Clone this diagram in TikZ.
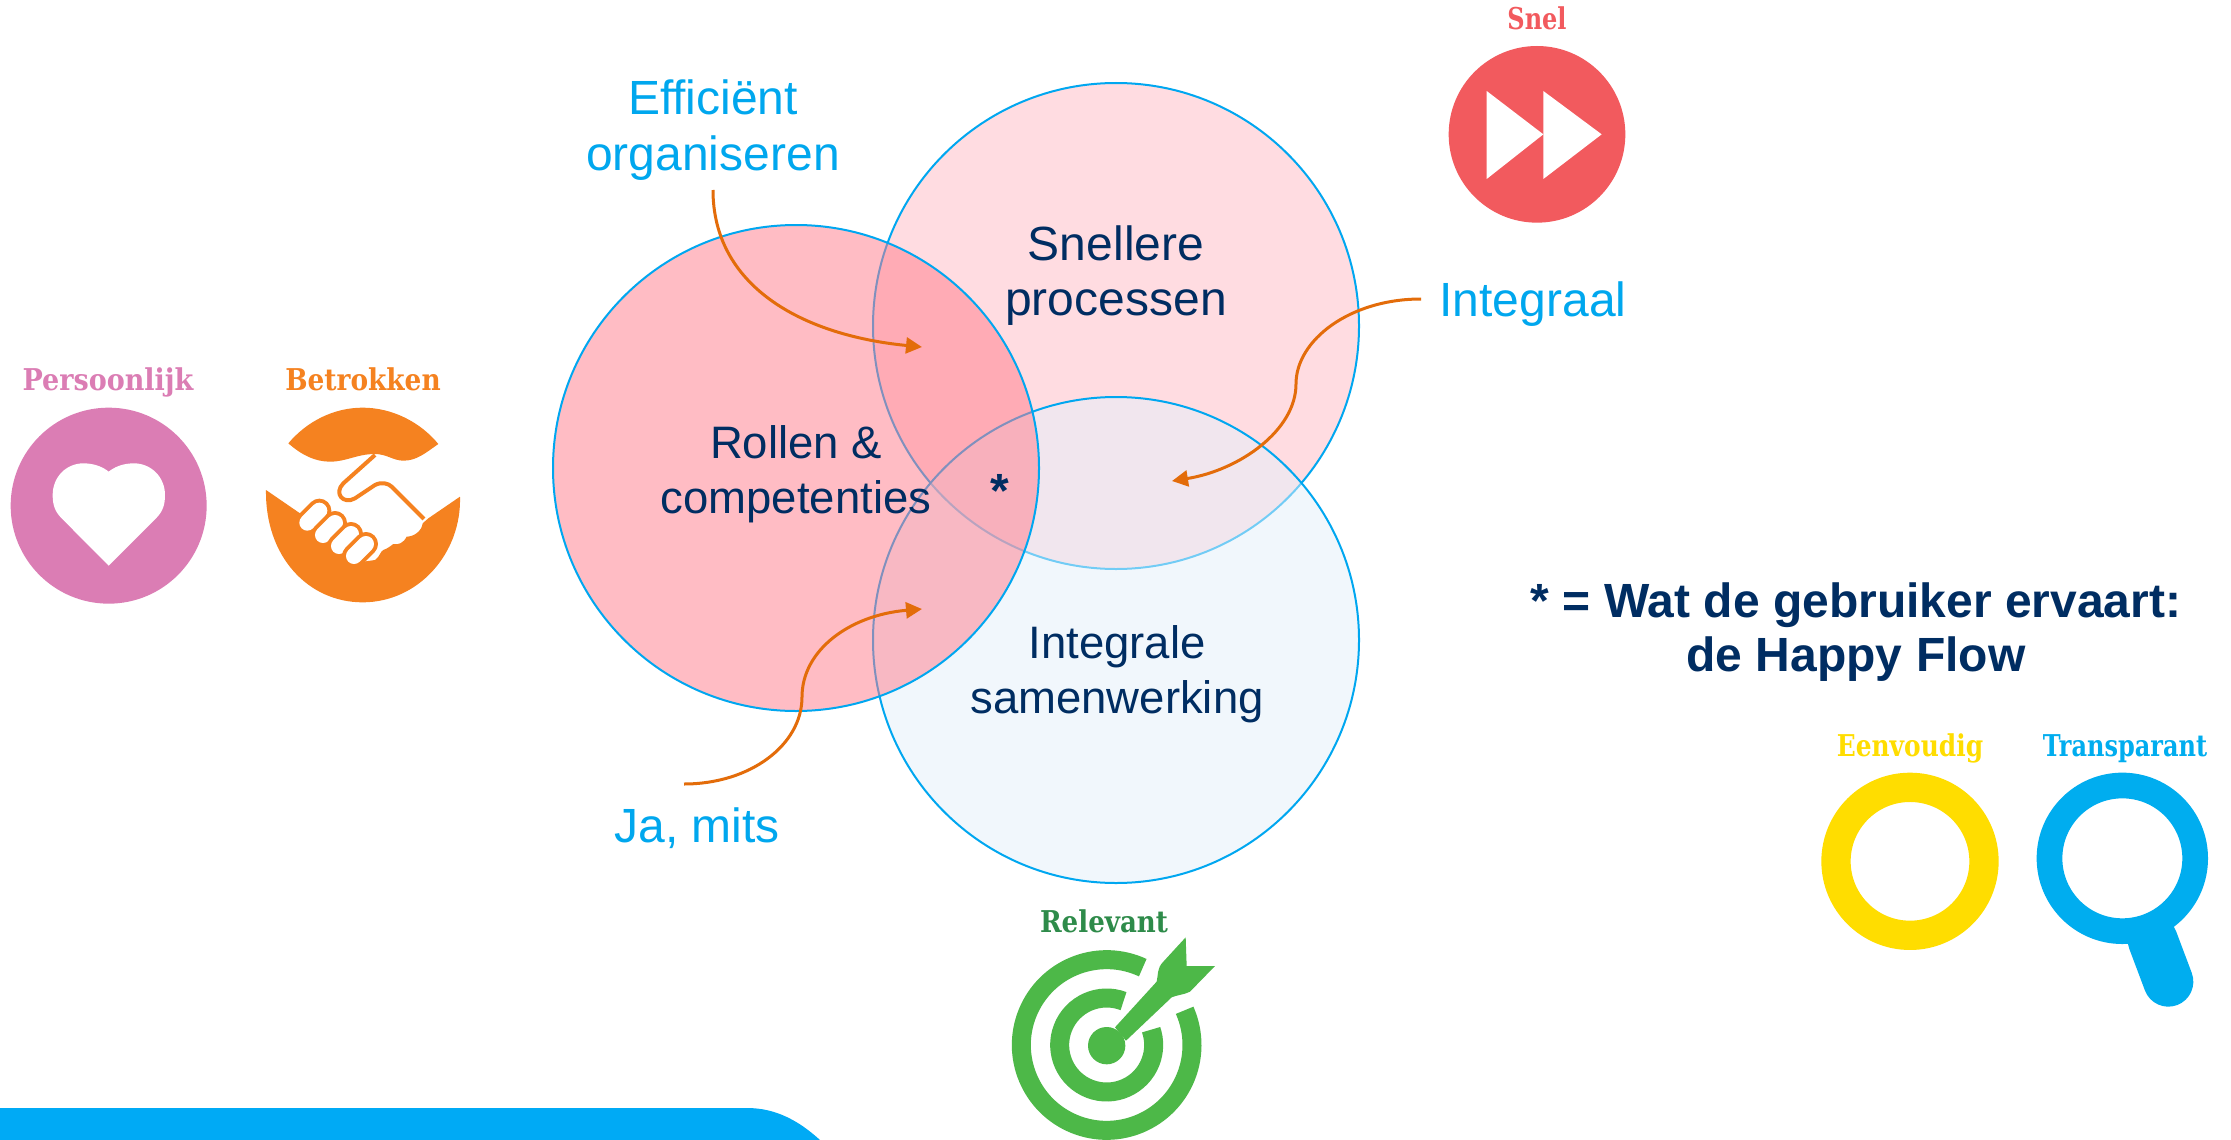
\documentclass[tikz,border=0pt]{standalone}
\usepackage{fontspec}
\setmainfont{Liberation Sans}
\newfontfamily\iconfont[Scale=1]{DejaVu Serif}
\usetikzlibrary{arrows.meta}
\definecolor{navy}{HTML}{002D62}
\definecolor{cyantext}{HTML}{00A7EE}
\definecolor{ringblue}{HTML}{00A7F0}
\definecolor{arroworange}{HTML}{E36C0A}
\definecolor{cpink}{HTML}{DB7DB4}
\definecolor{corange}{HTML}{F58220}
\definecolor{cred}{HTML}{F25A5E}
\definecolor{cgreen}{HTML}{4DB848}
\definecolor{cdgreen}{HTML}{2E8B4A}
\definecolor{cyellow}{HTML}{FFDD00}
\definecolor{cblue}{HTML}{00ADEF}
\definecolor{cbar}{HTML}{00AAF5}
\definecolor{fillleft}{RGB}{255,123,139}
\definecolor{filltop}{RGB}{255,220,225}
\definecolor{fillbot}{RGB}{229,241,251}
\tikzset{
  x=1pt,y=-1pt,
  venn/.style={circle,draw=ringblue,line width=2pt,minimum size=486pt,inner sep=0pt,fill opacity=.5,draw opacity=1},
  bigtext/.style={inner sep=0pt,align=center,text=navy,font=\fontsize{48}{55.6}\selectfont},
  midtext/.style={inner sep=0pt,align=center,text=navy,font=\fontsize{45.5}{55}\selectfont},
  linktext/.style={inner sep=0pt,align=center,text=cyantext,font=\fontsize{48}{55.6}\selectfont},
  headtext/.style={inner sep=0pt,align=center,text=navy,font=\bfseries\fontsize{48}{54}\selectfont},
  iconlabel/.style={inner sep=0pt,anchor=base,transform shape,font=\iconfont\bfseries\fontsize{30}{30}\selectfont},
  link/.style={draw=arroworange,line width=3pt,-{Triangle[length=16pt,width=16pt]}},
}
\begin{document}
\begin{tikzpicture}
\useasboundingbox (0,0) rectangle (2231,1140);
\fill[white] (0,0) rectangle (2231,1140);
% bottom bar
\fill[cbar] (0,1108) -- (747,1108) .. controls (775,1108) and (798,1120) .. (820,1140) -- (0,1140) -- cycle;
% venn
\node[venn,fill=filltop,fill opacity=1] (ctop) at (1116,326) {};
\node[venn,fill=fillbot] (cbot) at (1116,640) {};
\node[venn,fill=fillleft] (cleft) at (796,468) {};
% venn texts
\node[bigtext] (t1) at (1116,275.5) {Snellere\\processen};
\node[midtext] (t2) at (796,474) {Rollen \&\\competenties};
\node[midtext] (t3) at (1117,674) {Integrale\\samenwerking};
\node[headtext,anchor=center] (star) at (1000,491) {*};
\node[linktext] (l1) at (713,130) {Efficiënt\\organiseren};
\node[linktext,anchor=base] (l2) at (1533,316) {Integraal};
\node[linktext,anchor=base] (l3) at (697,842) {Ja, mits};
\node[headtext] (h) at (1856,632) {* = Wat de gebruiker ervaart:\\de Happy Flow};
% connectors
\coordinate (s1) at (713,190);
\coordinate (e1) at (922,347);
\coordinate (s2) at (1421,299);
\coordinate (m2) at (1296,384);
\coordinate (e2) at (1172,481);
\coordinate (s3) at (684,784);
\coordinate (m3) at (802,697);
\coordinate (e3) at (922,609);
\draw[link] (s1) .. controls (713,285) and (800,335) .. (e1);
\draw[link] (s2) .. controls (1350,299) and (1296,340) .. (m2) .. controls (1296,430) and (1240,470) .. (e2);
\draw[link] (s3) .. controls (750,784) and (802,745) .. (m3) .. controls (802,650) and (850,615) .. (e3);
% Persoonlijk / Betrokken icons
\node[iconlabel,text=cpink,xscale=.9] (ip) at (108,390) {Persoonlijk};
\node[iconlabel,text=corange,xscale=.88] (ib) at (363,390) {Betrokken};
\begin{scope}[shift={(0,340)},x=.33333pt,y=-.33333pt]
 \fill[cpink] (326,497) circle[radius=294/3*1pt];
 \fill[white] (326,677) -- (185,535) .. controls (165,515) and (158,495) .. (158,465)
   .. controls (158,410) and (200,370) .. (250,370) .. controls (285,370) and (310,382) .. (326,395)
   .. controls (342,382) and (367,370) .. (402,370) .. controls (452,370) and (495,410) .. (495,465)
   .. controls (495,495) and (488,515) .. (468,535) -- cycle;
 % handshake
 \fill[corange] (865,310) .. controls (920,245) and (1000,203) .. (1088,203)
   .. controls (1175,203) and (1260,245) .. (1315,312)
   .. controls (1275,340) and (1250,362) .. (1210,362)
   .. controls (1180,362) and (1160,342) .. (1125,342)
   .. controls (1070,342) and (1040,365) .. (990,365)
   .. controls (945,365) and (905,345) .. cycle;
 \fill[corange] (798,450) -- (900,520) -- (1000,640) -- (1090,665) -- (1125,660)
   .. controls (1140,650) and (1140,635) .. (1150,630)
   .. controls (1165,625) and (1175,615) .. (1180,612)
   .. controls (1195,615) and (1210,610) .. (1220,590)
   .. controls (1240,590) and (1265,575) .. (1268,550)
   -- (1285,535) -- (1380,470)
   .. controls (1385,640) and (1255,787) .. (1088,787)
   .. controls (925,787) and (795,650) .. cycle;
 \draw[corange,line width=4pt,line join=round] (1125,345) -- (1030,430)
   .. controls (1000,460) and (1030,495) .. (1065,475)
   -- (1125,435) .. controls (1145,425) and (1165,430) .. (1175,440) -- (1272,537);
 \foreach \cx/\cy in {940/530,987/567,1035/600,1080/630}{
   \draw[corange,line width=24pt,line cap=round] (\cx-18,\cy+18) -- (\cx+18,\cy-18);
   \draw[white,line width=16pt,line cap=round] (\cx-18,\cy+18) -- (\cx+18,\cy-18);
 }
\end{scope}
% Snel icon
\node[iconlabel,text=cred,xscale=.8] (is) at (1537,30) {Snel};
\begin{scope}[shift={(1400,0)},x=.33333pt,y=-.33333pt]
 \fill[cred] (411,403) circle[radius=265/3*1pt];
 \fill[white] (260,273) -- (430,403) -- (260,537) -- cycle;
 \fill[white] (430,273) -- (605,403) -- (430,537) -- cycle;
\end{scope}
% Relevant icon
\node[iconlabel,text=cdgreen,xscale=.87] (ir) at (1104,932) {Relevant};
\begin{scope}[shift={(960,880)},x=.33333pt,y=-.33333pt]
 \draw[cgreen,line width=19pt] (440,495) ++(65:256/3*1pt) arc[start angle=65,end angle=384,radius=256/3*1pt];
 \draw[cgreen,line width=19pt] (440,495) ++(69:141/3*1pt) arc[start angle=69,end angle=379,radius=141/3*1pt];
 \fill[cgreen] (440,497) circle[radius=56/3*1pt];
 \fill[cgreen] (677,172) -- (680,258) -- (765,258) -- (690,335)
   .. controls (670,345) and (650,345) .. (635,352) -- (498,482) -- (465,442)
   -- (590,305) .. controls (595,285) and (590,265) .. (610,245) -- cycle;
\end{scope}
% Eenvoudig / Transparant icons
\node[iconlabel,text=cyellow,xscale=.83] (ie) at (1910,756) {Eenvoudig};
\node[iconlabel,text=cblue,xscale=.8] (it) at (2125,756) {Transparant};
\begin{scope}[shift={(1780,710)},x=.33333pt,y=-.33333pt]
 \draw[cyellow,line width=29.3pt] (390,454) circle[radius=222/3*1pt];
 \draw[cblue,line width=50pt,line cap=round] (1118,690) -- (1165,815);
 \draw[cblue,line width=25.7pt] (1027,445) circle[radius=218.5/3*1pt];
\end{scope}
\end{tikzpicture}
\end{document}
